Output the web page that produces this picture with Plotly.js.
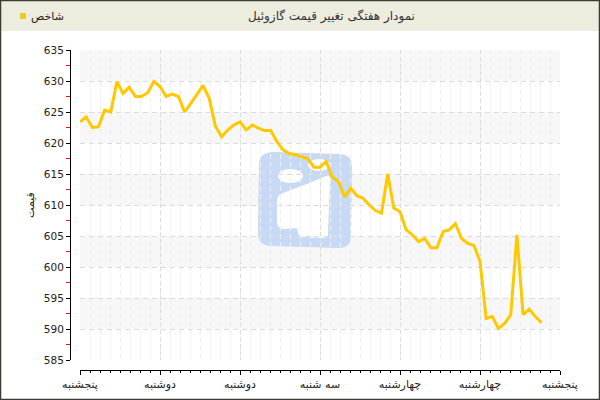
<!DOCTYPE html>
<html><head><meta charset="utf-8">
<script src="https://cdn.plot.ly/plotly-3.0.1.min.js"></script>
<style>html,body{margin:0;padding:0;background:#fff}#chart{width:600px;height:400px}</style>
</head><body><div id="chart"></div>
<script>
const chartTitle = 'نمودار هفتگی تغییر قیمت گازوئیل';
const seriesName = 'شاخص';
const yTitle = 'قیمت';
const dayLabels = ['پنجشنبه','دوشنبه','دوشنبه','سه شنبه','چهارشنبه','چهارشنبه','پنجشنبه'];
const pointsPerDay = 13;
const yTicks = [585,590,595,600,605,610,615,620,625,630,635];
const prices = [
  623.4, 624.2, 622.5, 622.6, 625.3, 625.0, 629.9, 628.0, 629.0, 627.5,
  627.5, 628.1, 629.9, 629.1, 627.5, 627.9, 627.5, 625.0, 626.4, 627.9,
  629.3, 627.2, 622.7, 621.0, 622.1, 622.9, 623.4, 622.1, 622.9, 622.4,
  622.0, 622.0, 620.2, 618.9, 618.3, 618.1, 617.8, 617.5, 616.1, 616.1,
  617.0, 614.5, 613.8, 611.3, 612.7, 611.5, 611.1, 610.0, 609.1, 608.7,
  615.0, 609.5, 608.9, 606.0, 605.2, 604.1, 604.6, 603.1, 603.1, 605.7,
  606.0, 607.0, 604.6, 603.8, 603.5, 600.9, 591.7, 592.0, 590.1, 590.9,
  592.3, 605.2, 592.3, 593.2, 592.0, 591.0
];

const W = 600, H = 400;
const px = v => v / W, py = v => 1 - v / H;
const pathPx = s => s.replace(/(-?\d+\.?\d*),(-?\d+\.?\d*)/g, (m, a, b) => px(+a) + ',' + py(+b));

const xDom = [px(80), px(560)];
const yDom = [py(360), py(50)];
const xMax = pointsPerDay * (dayLabels.length - 1);
const yMin = yTicks[0], yMax = yTicks[yTicks.length - 1];
const yToPaper = v => yDom[0] + (v - yMin) / (yMax - yMin) * (yDom[1] - yDom[0]);

const xs = prices.map((_, i) => i);
const tickVals = dayLabels.map((_, i) => i * pointsPerDay);

const shapes = [];
// header band
shapes.push({type:'rect', xref:'paper', yref:'paper', x0:0, x1:1, y0:py(31), y1:1,
  fillcolor:'#ECECDF', line:{width:0}, layer:'below'});
// alternating bands
for (let k = 0; k < yTicks.length - 1; k++) {
  if ((yTicks.length - 2 - k) % 2 === 0) {
    shapes.push({type:'rect', xref:'paper', yref:'paper', x0:xDom[0], x1:xDom[1],
      y0:yToPaper(yTicks[k]), y1:yToPaper(yTicks[k+1]),
      fillcolor:'#F7F7F7', line:{width:0}, layer:'below'});
  }
}
// watermark logo
shapes.push({type:'path', xref:'paper', yref:'paper', layer:'below',
  path: pathPx('M 273,152 L 340,154 Q 352,155 352,167 L 351,236 Q 351,248 339,248 L 270,246 Q 258,245 258,233 L 259,164 Q 260,152 273,152 Z'),
  fillcolor:'#C6D9F6', line:{width:0}});
shapes.push({type:'circle', xref:'paper', yref:'paper', layer:'below',
  x0:px(278), x1:px(303), y0:py(183), y1:py(169), fillcolor:'#FFFFFF', line:{width:0}});
shapes.push({type:'circle', xref:'paper', yref:'paper', layer:'below',
  x0:px(308), x1:px(330), y0:py(171), y1:py(159), fillcolor:'#FFFFFF', line:{width:0}});
shapes.push({type:'path', xref:'paper', yref:'paper', layer:'below',
  path: pathPx('M 283,193 Q 296,188 312,182 L 326,176 Q 330,175 330,179 L 328,234 Q 328,238 323,238 L 303,237 Q 299,237 298,233 L 297,228 L 284,229 Q 277,229 277,222 L 277,200 Q 277,195 283,193 Z'),
  fillcolor:'#FFFFFF', line:{width:0}});
// legend square
shapes.push({type:'rect', xref:'paper', yref:'paper', layer:'above',
  x0:px(20.5), x1:px(25.5), y0:py(18.5), y1:py(13.5), fillcolor:'#FFC800', line:{color:'#E0B000', width:0.5}});
// outer border
shapes.push({type:'rect', xref:'paper', yref:'paper', layer:'above',
  x0:px(0.5), x1:px(599.5), y0:py(399.5), y1:py(0.5), fillcolor:'rgba(0,0,0,0)', line:{color:'#3A3A30', width:1.5}});

const trace = {
  type:'scatter', mode:'lines', name: seriesName, x: xs, y: prices,
  line:{color:'#FFC800', width:3}, hoverinfo:'y'
};

const layout = {
  width: W, height: H,
  margin:{l:0, r:0, t:0, b:0},
  paper_bgcolor:'#FFFFFF', plot_bgcolor:'rgba(0,0,0,0)',
  showlegend:false,
  font:{family:'DejaVu Sans', size:10, color:'#222'},
  xaxis:{
    domain:xDom, range:[0, xMax], anchor:'free', position:py(370),
    tickmode:'array', tickvals:tickVals, ticktext:dayLabels,
    tickfont:{size:11, color:'#222'},
    showline:true, linecolor:'#000', linewidth:1,
    ticks:'outside', ticklen:4, tickcolor:'#000',
    showgrid:true, gridcolor:'#DCDCDC', griddash:'4px,3px', gridwidth:1,
    zeroline:false, fixedrange:true,
    minor:{tickmode:'linear', tick0:0, dtick:pointsPerDay/8, ticks:'outside', ticklen:2, tickcolor:'#000',
      showgrid:true, gridcolor:'#EFEFEF', griddash:'5px,3px', gridwidth:1}
  },
  yaxis:{
    domain:yDom, range:[yMin, yMax], anchor:'free', position:px(70),
    tickmode:'array', tickvals:yTicks,
    tickfont:{size:10.5, color:'#222'},
    showline:true, linecolor:'#000', linewidth:1,
    ticks:'outside', ticklen:4, tickcolor:'#000',
    showgrid:true, gridcolor:'#DCDCDC', griddash:'5px,4px', gridwidth:1,
    zeroline:false, fixedrange:true,
    minor:{tickmode:'linear', tick0:yMin, dtick:2.5, ticks:'outside', ticklen:4, tickcolor:'#FF0000', showgrid:false},
    title:{text:yTitle, standoff:6, font:{size:11, color:'#222'}}
  },
  shapes: shapes,
  annotations:[
    {xref:'paper', yref:'paper', x:px(331), y:py(16), text:chartTitle, showarrow:false,
      xanchor:'center', yanchor:'middle', font:{size:12, color:'#333'}},
    {xref:'paper', yref:'paper', x:px(28.5), y:py(16), text:seriesName, showarrow:false,
      xanchor:'left', yanchor:'middle', font:{size:11, color:'#222'}}
  ]
};

Plotly.newPlot('chart', [trace], layout, {displayModeBar:false, staticPlot:true});
</script>
</body></html>
